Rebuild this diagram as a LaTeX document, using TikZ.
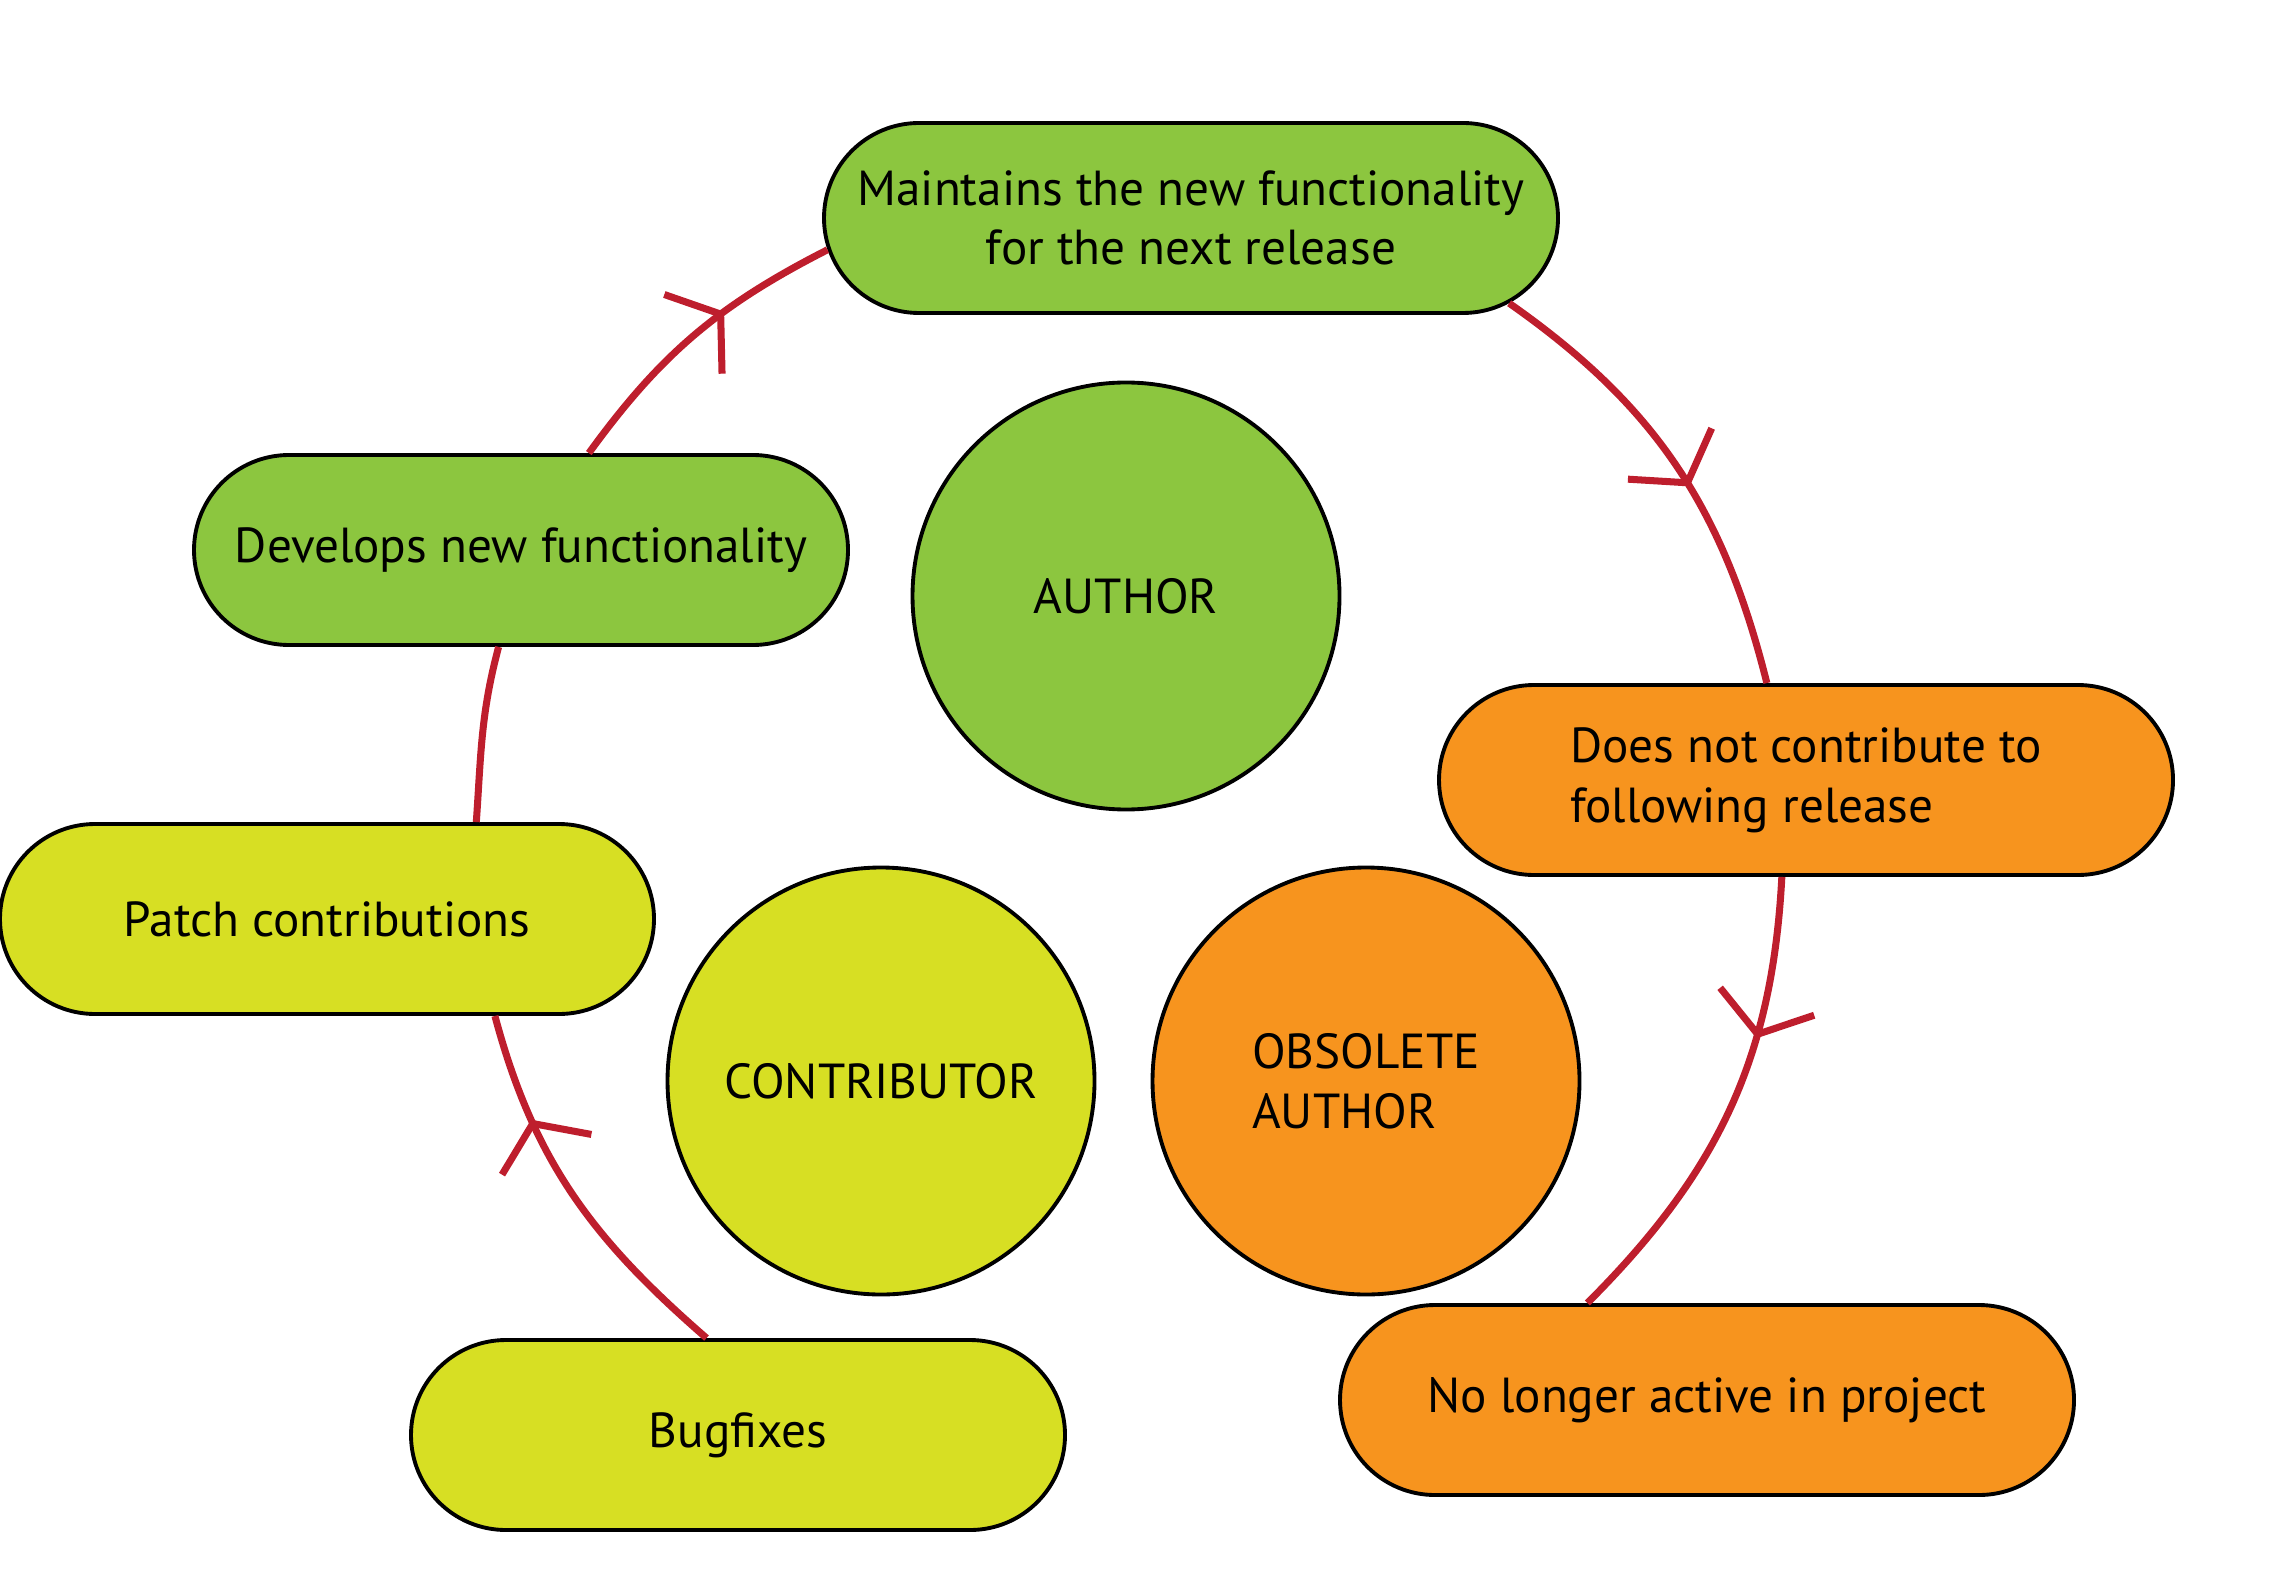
\documentclass[tikz,border=0pt]{standalone}
\usepackage{fontspec}
\setmainfont{PT Sans}
\usetikzlibrary{arrows.meta}
\usetikzlibrary{shapes.misc}
\usetikzlibrary{decorations.markings}
\definecolor{authorgreen}{HTML}{8CC63F}
\definecolor{contribyellow}{HTML}{D7DF23}
\definecolor{obsoleteorange}{HTML}{F7941E}
\definecolor{loopred}{HTML}{BE1E2D}

\begin{document}
\begin{tikzpicture}
\tikzstyle{every node}=[font=\fontsize{14}{17}\selectfont]
\tikzstyle{pill}=[rounded rectangle, draw, line width=1.1pt, minimum height=1.9cm, inner sep=0pt]
\tikzstyle{blob}=[circle, draw, line width=1.1pt, minimum size=4.27cm, inner sep=0pt]
\tikzstyle{loopline}=[draw=loopred, line width=2pt]
\tikzset{midtip/.style={postaction={decorate}, decoration={markings, mark=at position #1 with {\arrow{Straight Barb[length=0.34cm, width=0.98cm, sharp]}}}}}
\useasboundingbox (0,0) rectangle (22.76,15.84);
\node [pill, fill=authorgreen, minimum width=7.34cm, align=center] (maint) at (11.91,13.66) {Maintains the new functionality\\for the next release};
\node [pill, fill=authorgreen, minimum width=6.54cm] (dev) at (5.21,10.34) {Develops new functionality};
\node [pill, fill=contribyellow, minimum width=6.54cm] (patch) at (3.27,6.65) {Patch contributions};
\node [pill, fill=contribyellow, minimum width=6.54cm] (bug) at (7.38,1.49) {Bugfixes};
\node [pill, fill=obsoleteorange, minimum width=7.34cm, align=left] (quit) at (18.06,8.04) {Does not contribute to\\following release};
\node [pill, fill=obsoleteorange, minimum width=7.34cm] (gone) at (17.07,1.84) {No longer active in project};
\node [blob, fill=authorgreen] (author) at (11.26,9.88) {AUTHOR};
\node [blob, fill=contribyellow] (contrib) at (8.81,5.03) {CONTRIBUTOR};
\node [blob, fill=obsoleteorange, align=left] (obsolete) at (13.66,5.03) {OBSOLETE\\AUTHOR};
\draw [loopline, midtip=0.62] (dev.55) to [out=54, in=207] (maint.185);
\draw [loopline, midtip=0.55] (maint.-15) to [out=-35, in=104] (quit.112);
\draw [loopline, midtip=0.34] (quit.256) to [out=-93, in=45] (gone.141);
\draw [loopline, midtip=0.72] (bug.108) to [out=139, in=285] (patch.-30);
\draw [loopline] (patch.33) to [out=86, in=255] (dev.257);
\end{tikzpicture}
\end{document}
